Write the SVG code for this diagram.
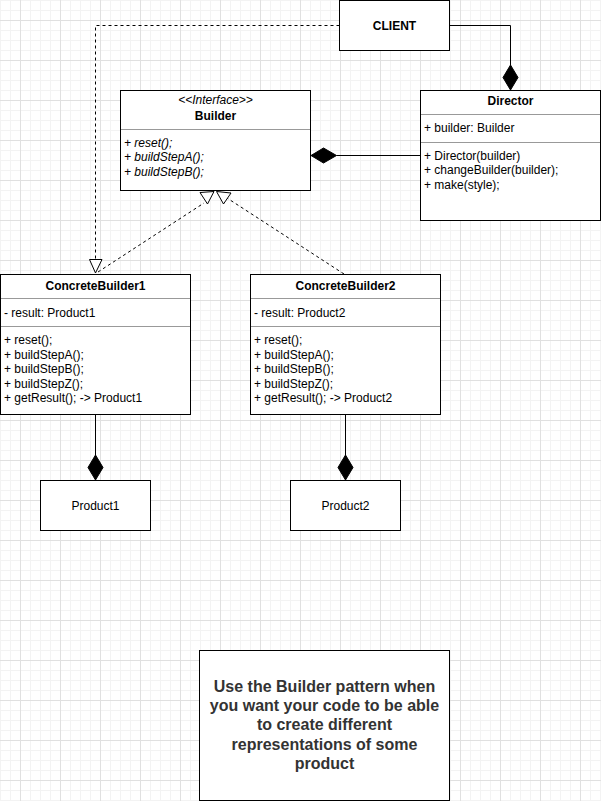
<svg xmlns="http://www.w3.org/2000/svg" width="601" height="801" viewBox="0 0 601 801">
<style>
.box{fill:#fff;stroke:#000;stroke-width:1}
.sep{stroke:#999;stroke-width:1;fill:none}
.t{font-family:"Liberation Sans",Arial,sans-serif;font-size:12px;fill:#000}
.b{font-weight:bold}
.i{font-style:italic}
.c{text-anchor:middle}
.line{stroke:#000;stroke-width:1;fill:none}
.dash{stroke:#000;stroke-width:1;fill:none;stroke-dasharray:3 3}
.dia{fill:#000;stroke:#000;stroke-width:1}
.tri{fill:#fff;stroke:#000;stroke-width:1}
.note{font-family:"Liberation Sans",Arial,sans-serif;font-size:16px;font-weight:bold;fill:#333;text-anchor:middle}
</style>
<defs>
<pattern id="grid" patternUnits="userSpaceOnUse" x="20" y="20" width="40" height="40">
<path d="M10.5 0V40M20.5 0V40M30.5 0V40M0 10.5H40M0 20.5H40M0 30.5H40" stroke="#f3f3f3" stroke-width="1"/>
<path d="M0.5 0V40M0 0.5H40" stroke="#e0e0e0" stroke-width="1"/>
</pattern>
</defs>
<rect width="601" height="801" fill="#fff"/>
<rect width="601" height="801" fill="url(#grid)"/>

<g id="connectors">
<path class="line" d="M449.5 25.5H510.5V65"/>
<polygon class="dia" points="510.5,65 518,77.5 510.5,90 503,77.5"/>
<path class="line" d="M420 155.5H336.5"/>
<polygon class="dia" points="311,155.5 323.5,148 336.5,155.5 323.5,163"/>
<path class="dash" d="M339.5 25.5H95.5V259.5"/>
<polygon class="tri" points="89.5,259.5 102,259.5 95.5,273"/>
<path class="dash" d="M98 272L204 203"/>
<path class="dash" d="M344 274L227 198"/>
<polygon class="tri" points="200,192.5 214,191.5 207.5,204"/>
<polygon class="tri" points="216.5,191.5 231,193 223.5,204"/>
<path class="line" d="M95.5 414.5V455"/>
<polygon class="dia" points="95.5,455 103,467.5 95.5,480 88,467.5"/>
<path class="line" d="M345.5 414.5V455"/>
<polygon class="dia" points="345.5,455 353,467.5 345.5,480 338,467.5"/>
</g>

<g id="client">
<rect class="box" x="339.5" y="0.5" width="110" height="50"/>
<text class="t b c" x="394.5" y="29.5">CLIENT</text>
</g>

<g id="director">
<rect class="box" x="420.5" y="90.5" width="180" height="130"/>
<line class="sep" x1="421" y1="114.5" x2="600" y2="114.5"/>
<line class="sep" x1="421" y1="142.5" x2="600" y2="142.5"/>
<text class="t b c" x="510.5" y="104.5">Director</text>
<text class="t" x="424" y="132">+ builder: Builder</text>
<text class="t" x="424" y="159.5">+ Director(builder)</text>
<text class="t" x="424" y="174">+ changeBuilder(builder);</text>
<text class="t" x="424" y="188.5">+ make(style);</text>
</g>

<g id="builder">
<rect class="box" x="120.5" y="90.5" width="190" height="100"/>
<line class="sep" x1="121" y1="129.5" x2="310" y2="129.5"/>
<text class="t i c" x="215.5" y="104">&lt;&lt;Interface&gt;&gt;</text>
<text class="t b c" x="215.5" y="119.5">Builder</text>
<text class="t i" x="124" y="147">+ <tspan>reset();</tspan></text>
<text class="t i" x="124" y="161.4">+ buildStepA();</text>
<text class="t i" x="124" y="175.8">+ buildStepB();</text>
</g>

<g id="concretebuilder1">
<rect class="box" x="0.5" y="274.5" width="190" height="140"/>
<line class="sep" x1="1" y1="298.5" x2="190" y2="298.5"/>
<line class="sep" x1="1" y1="326.5" x2="190" y2="326.5"/>
<text class="t b c" x="95.5" y="289.5">ConcreteBuilder1</text>
<text class="t" x="4" y="316.5">- result: Product1</text>
<text class="t" x="4" y="344.3">+ reset();</text>
<text class="t" x="4" y="358.7">+ buildStepA();</text>
<text class="t" x="4" y="373.1">+ buildStepB();</text>
<text class="t" x="4" y="387.5">+ buildStepZ();</text>
<text class="t" x="4" y="401.9">+ getResult(); -&gt; Product1</text>
</g>

<g id="concretebuilder2">
<rect class="box" x="250.5" y="274.5" width="190" height="140"/>
<line class="sep" x1="251" y1="298.5" x2="440" y2="298.5"/>
<line class="sep" x1="251" y1="326.5" x2="440" y2="326.5"/>
<text class="t b c" x="345.5" y="289.5">ConcreteBuilder2</text>
<text class="t" x="254" y="316.5">- result: Product2</text>
<text class="t" x="254" y="344.3">+ reset();</text>
<text class="t" x="254" y="358.7">+ buildStepA();</text>
<text class="t" x="254" y="373.1">+ buildStepB();</text>
<text class="t" x="254" y="387.5">+ buildStepZ();</text>
<text class="t" x="254" y="401.9">+ getResult(); -&gt; Product2</text>
</g>

<g id="product1">
<rect class="box" x="40.5" y="480.5" width="110" height="50"/>
<text class="t c" x="95.5" y="509.5">Product1</text>
</g>

<g id="product2">
<rect class="box" x="290.5" y="480.5" width="110" height="50"/>
<text class="t c" x="345.5" y="509.5">Product2</text>
</g>

<g id="note">
<rect class="box" x="199.5" y="650.5" width="250" height="150"/>
<text class="note" x="324.5" y="692">Use the Builder pattern when</text>
<text class="note" x="324.5" y="711.2">you want your code to be able</text>
<text class="note" x="324.5" y="730.4">to create different</text>
<text class="note" x="324.5" y="749.6">representations of some</text>
<text class="note" x="324.5" y="768.8">product</text>
</g>
</svg>
